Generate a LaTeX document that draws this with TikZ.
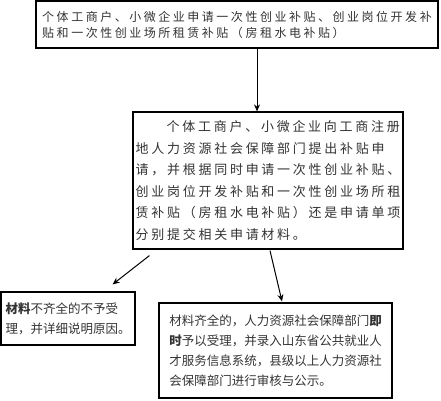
\documentclass[tikz,border=0pt]{standalone}
\usepackage{fontspec}
\newfontfamily\cjk{Noto Sans CJK SC}
\newfontfamily\cjkwide[LetterSpace=21]{Noto Sans CJK SC}
\newfontfamily\cjkwider[LetterSpace=21]{Noto Sans CJK SC}
\usetikzlibrary{arrows.meta}

\begin{document}
\begin{tikzpicture}[> = {Stealth[length=7pt,width=6pt]}, % arrow head style
	x=1pt, y=-1pt, % picture measured in pixels, y downwards
	line width=1pt,
	every node/.style={draw,rectangle,line width=1.2pt,align=left,inner sep=0pt,text=black!80}]
	\useasboundingbox (0,0) rectangle (441,400);

	\node (n1) at (237,24.5) [minimum width=402pt,minimum height=47pt,font=\fontsize{12}{16}\cjkwide]
		{个体工商户、小微企业申请一次性创业补贴、创业岗位开发补\\贴和一次性创业场所租赁补贴（房租水电补贴）};
	\node (n2) at (268,180.5) [minimum width=270pt,minimum height=137pt,font=\fontsize{13}{21.5}\cjkwider]
		{\hspace*{31pt}个体工商户、小微企业向工商注册\\地人力资源社会保障部门提出补贴申\\请，并根据同时申请一次性创业补贴、\\创业岗位开发补贴和一次性创业场所租\\赁补贴（房租水电补贴）还是申请单项\\分别提交相关申请材料。};
	\node (n3) at (68,318.5) [minimum width=134pt,minimum height=53pt,font=\fontsize{12.5}{20}\cjk]
		{\textbf{材料}不齐全的不予受\\理，并详细说明原因。};
	\node (n4) at (275.5,350.5) [minimum width=233pt,minimum height=95pt,font=\fontsize{12.5}{20}\cjk]
		{材料齐全的，人力资源社会保障部门\textbf{即}\\\textbf{时}予以受理，并录入山东省公共就业人\\才服务信息系统，县级以上人力资源社\\会保障部门进行审核与公示。};

	\draw[->] ([xshift=20pt]n1.south)--([xshift=-11pt]n2.north);
	\draw[->] ([xshift=17pt,yshift=-6pt]n2.south west)--([xshift=-23pt,yshift=7pt]n3.north east);
	\draw[->] ([xshift=2pt,yshift=-1pt]n2.south)--([xshift=6.5pt,yshift=1pt]n4.north);

\end{tikzpicture}
\end{document}
